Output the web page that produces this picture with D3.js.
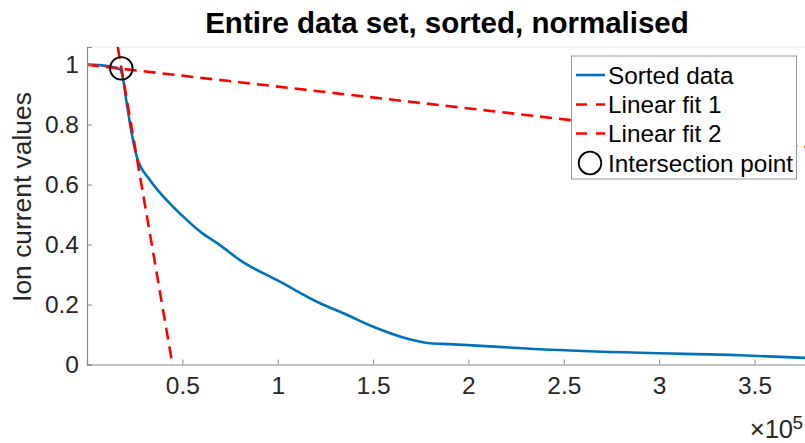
<!DOCTYPE html>
<html><head><meta charset="utf-8">
<script src="https://cdn.jsdelivr.net/npm/d3@7"></script>
<style>
html,body{margin:0;padding:0;background:#fff;}
svg{display:block;font-family:"Liberation Sans",Arial,Helvetica,sans-serif;}
</style></head>
<body><svg id="c" width="805" height="443"></svg>
<script>
// ---- data ----
const sortedX = [0, 6800, 17300, 19000, 20800, 23400, 26100, 33000, 41800, 52300, 59300, 69700, 80200, 101200, 122200, 134400, 150100, 167600, 179900, 190300, 237500, 290000, 342400, 376500];
const sortedY = [1.0, 0.998, 0.984, 0.948, 0.872, 0.772, 0.693, 0.615, 0.548, 0.482, 0.443, 0.398, 0.348, 0.276, 0.204, 0.171, 0.126, 0.087, 0.071, 0.068, 0.051, 0.039, 0.031, 0.022];
const fit1X = [0, 377000];
const fit1Y = [0.999, 0.725];
const fit2X = [16100, 44800];
const fit2Y = [1.059, 0.0];
const intersectX = [18000];
const intersectY = [0.987];
const xTicks = [50000, 100000, 150000, 200000, 250000, 300000, 350000];
const xTickLabels = ["0.5", "1", "1.5", "2", "2.5", "3", "3.5"];
const yTicks = [0, 0.2, 0.4, 0.6, 0.8, 1];
const yTickLabels = ["0", "0.2", "0.4", "0.6", "0.8", "1"];
const legendLabels = ["Sorted data", "Linear fit 1", "Linear fit 2", "Intersection point"];
const titleText = "Entire data set, sorted, normalised";
const yLabelText = "Ion current values";

// ---- layout ----
const L = 87, R = 806, T = 47, B = 364.5;
const x = d3.scaleLinear().domain([0, 377000]).range([L, R]);
const y = d3.scaleLinear().domain([0, 1.0583]).range([B, T]);
const svg = d3.select("#c");
const blue = "#0072BD", red = "#FF0000", axisCol = "#8a8a8a", txt = "#262626";

svg.append("defs").append("clipPath").attr("id","clip")
  .append("rect").attr("x", L).attr("y", T).attr("width", R - L).attr("height", B - T);

// faint top box line
svg.append("line").attr("x1", L).attr("x2", R).attr("y1", T).attr("y2", T)
  .attr("stroke", "#e6e6e6").attr("stroke-width", 1);

const plot = svg.append("g").attr("clip-path", "url(#clip)");
const line = d3.line().x(d => x(d[0])).y(d => y(d[1]));

plot.append("path").datum(sortedX.map((v,i)=>[v, sortedY[i]]))
  .attr("d", line.curve(d3.curveMonotoneX)).attr("fill","none")
  .attr("stroke", blue).attr("stroke-width", 2.6);

const lineStraight = d3.line().x(d => x(d[0])).y(d => y(d[1]));
plot.append("path").datum(fit1X.map((v,i)=>[v, fit1Y[i]]))
  .attr("d", lineStraight).attr("fill","none").attr("stroke", red)
  .attr("stroke-width", 2.6).attr("stroke-dasharray", "12,7");
plot.append("path").datum(fit2X.map((v,i)=>[v, fit2Y[i]]))
  .attr("d", lineStraight).attr("fill","none").attr("stroke", red)
  .attr("stroke-width", 2.6).attr("stroke-dasharray", "12,7");

svg.append("g").selectAll("circle").data(intersectX).join("circle")
  .attr("cx", d => x(d)).attr("cy", (d,i) => y(intersectY[i])).attr("r", 11.3)
  .attr("fill","none").attr("stroke","#000").attr("stroke-width", 1.8);

// ---- axes ----
const xAxis = d3.axisBottom(x).tickValues(xTicks).tickFormat((d,i)=>xTickLabels[i]).tickSize(-5).tickPadding(12);
const gx = svg.append("g").attr("transform", `translate(0,${B})`).call(xAxis);
gx.select(".domain").attr("stroke", axisCol).attr("stroke-width", 1.2);
gx.selectAll(".tick line").attr("stroke", axisCol);
gx.selectAll(".tick text").attr("fill", txt).attr("font-size", 24.5).attr("font-family", null);

const yAxis = d3.axisLeft(y).tickValues(yTicks).tickFormat((d,i)=>yTickLabels[i]).tickSize(-5).tickPadding(8);
const gy = svg.append("g").attr("transform", `translate(${L},0)`).call(yAxis);
gy.select(".domain").attr("stroke", axisCol).attr("stroke-width", 1.2);
gy.selectAll(".tick line").attr("stroke", axisCol);
gy.selectAll(".tick text").attr("fill", txt).attr("font-size", 24.5).attr("font-family", null);

// exponent
svg.append("text").attr("x", 793).attr("y", 438).attr("text-anchor","end")
  .attr("font-size", 25.5).attr("fill", txt).text("\u00d710");
svg.append("text").attr("x", 792.5).attr("y", 429).attr("font-size", 19).attr("fill", txt).text("5");

// title
svg.append("text").attr("x", 447).attr("y", 33).attr("text-anchor","middle")
  .attr("font-size", 29.5).attr("font-weight","bold").attr("fill","#000").text(titleText);

// y label
svg.append("text").attr("transform", "translate(31,197) rotate(-90)").attr("text-anchor","middle")
  .attr("font-size", 26.4).attr("fill", txt).text(yLabelText);

// ---- legend ----
const lg = svg.append("g");
lg.append("rect").attr("x", 571.5).attr("y", 56).attr("width", 225).attr("height", 123)
  .attr("fill","#fff").attr("stroke","#999").attr("stroke-width", 1);
const rowsY = [75, 104.5, 133.5, 163];
legendLabels.forEach((lab, i) => {
  const yy = rowsY[i];
  if (i === 0) {
    lg.append("line").attr("x1", 576).attr("x2", 605).attr("y1", yy).attr("y2", yy)
      .attr("stroke", blue).attr("stroke-width", 2.6);
  } else if (i < 3) {
    lg.append("line").attr("x1", 576).attr("x2", 605).attr("y1", yy).attr("y2", yy)
      .attr("stroke", red).attr("stroke-width", 2.6).attr("stroke-dasharray", "11,9");
  } else {
    lg.append("circle").attr("cx", 590).attr("cy", yy).attr("r", 11.3)
      .attr("fill","none").attr("stroke","#000").attr("stroke-width", 1.8);
  }
  lg.append("text").attr("x", 608).attr("y", yy).attr("dy", "0.35em")
    .attr("font-size", 24.3).attr("fill", "#000").text(lab);
});
</script></body></html>
